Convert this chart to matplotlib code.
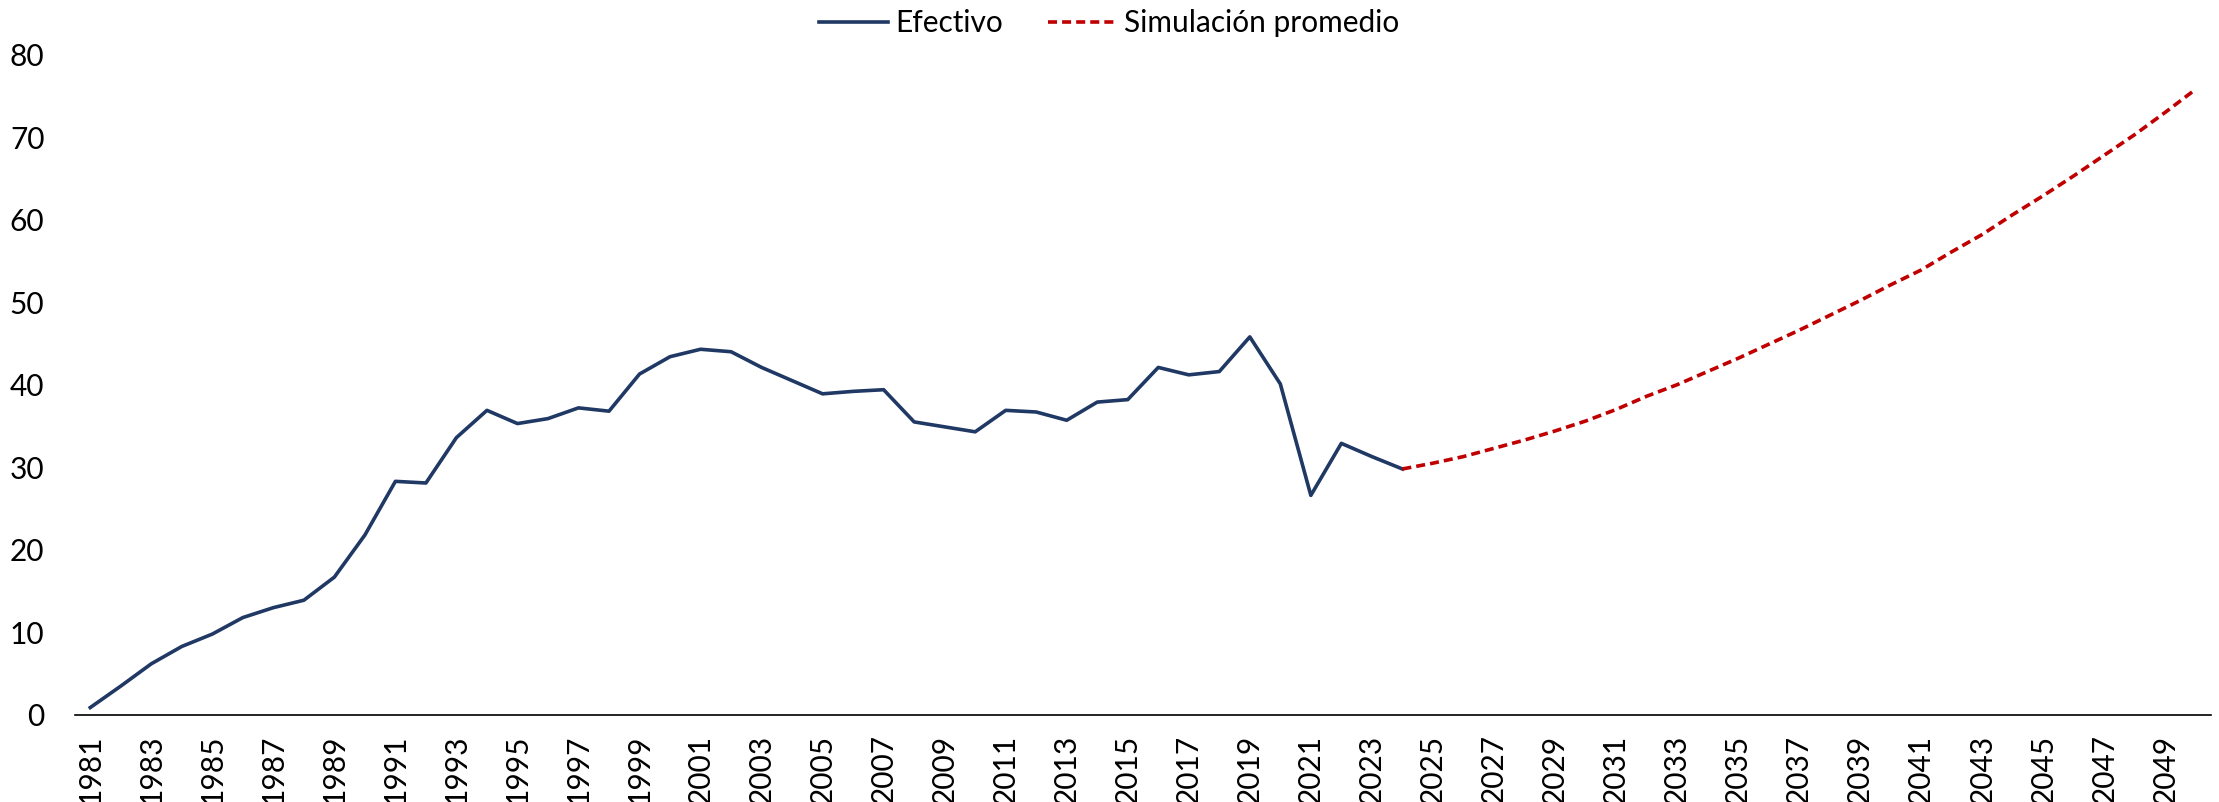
import matplotlib
matplotlib.use("Agg")
import matplotlib.pyplot as plt

plt.rcParams['font.family'] = ['Lato', 'DejaVu Sans']

years_actual = list(range(1981, 2025))
efectivo = [0.9, 3.5, 6.2, 8.3, 9.8, 11.8, 13.0, 13.9, 16.7, 21.8,
            28.3, 28.1, 33.6, 36.9, 35.3, 35.9, 37.2, 36.8, 41.3, 43.4,
            44.3, 44.0, 42.1, 40.5, 38.9, 39.2, 39.4, 35.5, 34.9, 34.3,
            36.9, 36.7, 35.7, 37.9, 38.2, 42.1, 41.2, 41.6, 45.8, 40.1,
            26.6, 32.9, 31.3, 29.8]

years_sim = list(range(2024, 2051))
simulacion = [29.8, 30.5, 31.3, 32.3, 33.3, 34.4, 35.6, 37.0, 38.6, 40.0,
              41.6, 43.2, 44.9, 46.6, 48.4, 50.2, 52.1, 53.9, 56.1, 58.2,
              60.6, 62.9, 65.3, 67.8, 70.3, 73.0, 75.8]

tick_years = list(range(1981, 2050, 2))

fig = plt.figure(figsize=(22.19, 8.02), dpi=100)
ax = fig.add_axes([0.0338, 0.1085, 0.9626, 0.8235])

ax.plot(years_actual, efectivo, color='#203864', lw=2.6, label='Efectivo')
ax.plot(years_sim, simulacion, color='#C00000', lw=2.6, dashes=(2.5, 1.4),
        label='Simulación promedio')

ax.set_xlim(1980.5, 2050.5)
ax.set_ylim(0, 80)
ax.set_yticks(range(0, 81, 10))
ax.set_xticks(tick_years)
ax.set_xticklabels([str(y) for y in tick_years], rotation=90)
ax.tick_params(axis='both', length=0, labelsize=21.5)
ax.tick_params(axis='x', pad=14)
ax.tick_params(axis='y', pad=22)

for s in ['top', 'right', 'left']:
    ax.spines[s].set_visible(False)
ax.spines['bottom'].set_color('#000000')
ax.spines['bottom'].set_linewidth(1.2)

fig.legend(*ax.get_legend_handles_labels(), loc='center', bbox_to_anchor=(0.5, 0.971),
           ncol=2, frameon=False, fontsize=21.5, handlelength=2.3,
           columnspacing=1.5, handletextpad=0.25)

fig.savefig('out.png', dpi=100)
